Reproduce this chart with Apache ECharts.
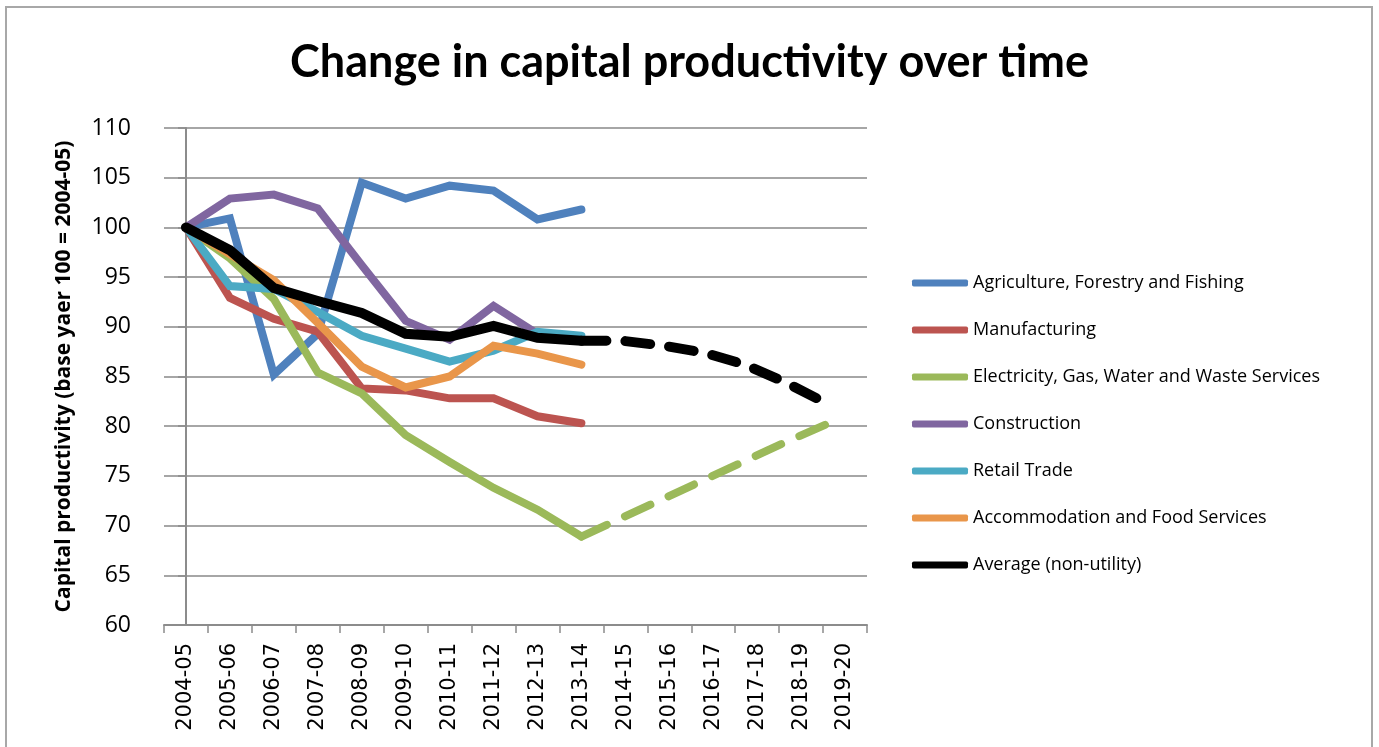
<!DOCTYPE html>
<html>
<head>
<meta charset="utf-8">
<script src="https://cdn.jsdelivr.net/npm/echarts@6/dist/echarts.min.js"></script>
<style>
html,body{margin:0;padding:0;background:#fff;}
#chart{width:1379px;height:747px;}
</style>
</head>
<body>
<div id="chart"></div>
<script>
var categories = ['2004-05','2005-06','2006-07','2007-08','2008-09','2009-10','2010-11','2011-12','2012-13','2013-14','2014-15','2015-16','2016-17','2017-18','2018-19','2019-20'];
var yTicks = [60,65,70,75,80,85,90,95,100,105,110];

var agriculture   = [100,100.9,85.2,89.3,104.5,102.9,104.2,103.7,100.8,101.8];
var manufacturing = [100,92.9,90.8,89.5,83.8,83.6,82.8,82.8,81.0,80.3];
var electricity   = [100,96.9,92.8,85.4,83.3,79.1,76.4,73.8,71.6,68.9];
var construction  = [100,102.9,103.3,101.9,96.2,90.6,88.7,92.1,89.3,88.9];
var retail        = [100,94.1,93.8,91.5,89.1,87.8,86.5,87.6,89.5,89.1];
var accommodation = [100,97.3,94.7,90.4,86.0,83.9,85.0,88.1,87.3,86.2];
var average       = [100,97.7,93.9,92.6,91.4,89.3,89.0,90.1,88.9,88.6];

// projections (x = category index position, as drawn in the picture)
var projX           = [9,9.93,10.86,11.79,12.72,13.65,14.58];
var averageProj     = [88.6,88.6,88.1,87.4,86.2,84.4,82.3];
var electricityProj = [68.9,70.8,72.7,74.6,76.5,78.4,80.2];

var names = ['Agriculture, Forestry and Fishing','Manufacturing','Electricity, Gas, Water and Waste Services','Construction','Retail Trade','Accommodation and Food Services','Average (non-utility)'];
var colors = ['#4F81BD','#BC5450','#9BB95A','#8066A0','#4BAAC4','#E9964A','#000000'];
var seriesData = [agriculture,manufacturing,electricity,construction,retail,accommodation,average];

function pairs(xs, ys){ return xs.map(function(x,i){return [x, ys[i]];}); }

var series = seriesData.map(function(d,i){
  return {
    name: names[i], type:'line', data:d, showSymbol:false, symbol:'none',
    xAxisIndex:0, yAxisIndex:0,
    lineStyle:{color:colors[i], width: i===6 ? 10 : 8, cap:'round', join:'miter'},
    itemStyle:{color:colors[i]},
    emphasis:{disabled:true}, animation:false, z: 2+i
  };
});
series.splice(3,0,{
  name:'Electricity projection', type:'line', data:pairs(projX, electricityProj), showSymbol:false, symbol:'none',
  xAxisIndex:1, yAxisIndex:0,
  lineStyle:{color:colors[2], width:8, type:[28,20], cap:'round', join:'round'},
  emphasis:{disabled:true}, animation:false, z:2
});
series.push({
  name:'Average projection', type:'line', data:pairs(projX, averageProj), showSymbol:false, symbol:'none',
  xAxisIndex:1, yAxisIndex:0,
  lineStyle:{color:'#000000', width:10, type:[25,19], cap:'round', join:'round'},
  emphasis:{disabled:true}, animation:false, z:20
});

var chart = echarts.init(document.getElementById('chart'), null, {renderer:'canvas'});
chart.setOption({
  animation:false,
  backgroundColor:'#ffffff',
  title:{
    text:'Change in capital productivity over time', left:'center', top:35,
    textStyle:{fontFamily:'Lato', fontWeight:'bold', fontSize:45, color:'#000'}
  },
  graphic:[{type:'rect', shape:{x:6, y:7, width:1366, height:760}, style:{fill:'none', stroke:'#A8A8A8', lineWidth:2}, silent:true}],
  legend:{
    data: names.map(function(n,i){return {name:n, icon:'roundRect', itemStyle:{color:colors[i]}};}),
    orient:'vertical', left:907, top:268,
    itemWidth:56, itemHeight:7, itemGap:27,
    textStyle:{fontFamily:'Open Sans', fontSize:18, color:'#000', lineHeight:20},
    selectedMode:false
  },
  grid:{left:164, top:128, right:512, bottom:122, containLabel:false},
  xAxis:[{
    type:'category', data:categories, boundaryGap:true,
    axisLine:{lineStyle:{color:'#8C8C8C', width:2}},
    axisTick:{show:true, length:8, lineStyle:{color:'#8C8C8C', width:1.5}},
    axisLabel:{interval:0, rotate:90, margin:18, fontFamily:'DejaVu Sans', fontSize:21, color:'#000'},
    splitLine:{show:false}
  },{
    type:'value', min:-0.5, max:15.5, show:false
  }],
  yAxis:{
    type:'value', min:60, max:110, interval:5,
    name:'Capital productivity (base yaer 100 = 2004-05)', nameLocation:'middle', nameGap:89, nameRotate:90,
    nameTextStyle:{fontFamily:'Open Sans', fontWeight:'bold', fontSize:21, color:'#000'},
    axisLine:{show:true, lineStyle:{color:'#8C8C8C', width:2}},
    axisTick:{show:true, length:8, lineStyle:{color:'#8C8C8C', width:1.5}},
    axisLabel:{margin:33, fontFamily:'Open Sans', fontSize:23, color:'#000', formatter:function(v){return yTicks.indexOf(v)>=0 ? String(v) : '';}},
    splitLine:{show:true, lineStyle:{color:'#A6A6A6', width:2}}
  },
  series:series
});
</script>
</body>
</html>
